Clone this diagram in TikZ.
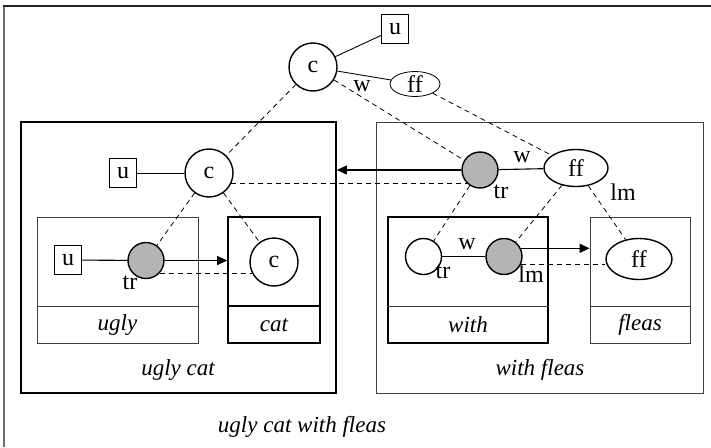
\documentclass[tikz,border=0pt]{standalone}
\usepackage{fontspec}
\setmainfont{Liberation Serif}
\usetikzlibrary{shapes.geometric,arrows.meta}
\definecolor{nodegray}{RGB}{178,180,182}
\definecolor{framegray}{RGB}{110,110,110}
\begin{document}
\begin{tikzpicture}[x=1pt,y=-1pt,
  every node/.style={font=\fontsize{24}{26}\selectfont},
  cnode/.style={circle,draw,line width=1.4pt,minimum size=48pt,inner sep=0pt},
  gnode/.style={circle,draw,line width=1.4pt,fill=nodegray,minimum size=36pt,inner sep=0pt},
  wnode/.style={circle,draw,line width=1.4pt,minimum size=36pt,inner sep=0pt},
  unode/.style={rectangle,draw,line width=0.9pt,minimum width=27pt,minimum height=29pt,inner sep=0pt},
  enode/.style={ellipse,draw,line width=1.4pt,inner sep=0pt},
  link/.style={line width=1.1pt},
  dlink/.style={line width=0.8pt,dash pattern=on 5pt off 4pt},
  arr/.style={line width=1.1pt,-{Triangle[length=10pt,width=9pt]}},
  thickbox/.style={draw,line width=1.7pt,inner sep=0pt},
  thinbox/.style={draw,line width=0.9pt,draw=black!75,inner sep=0pt},
  lbl/.style={inner sep=0pt},
  captxt/.style={inner sep=0pt,font=\fontsize{23}{25}\selectfont\itshape},
]
\useasboundingbox (0,0) rectangle (711,447);

% frame
\draw[line width=1.8pt,framegray] (4,447) -- (4,6);
\draw[line width=1.8pt,black!85] (3.1,6) -- (711,6);

% boxes
\node[thickbox,minimum width=315pt,minimum height=271pt] (ucbox) at (178.5,257.5) {};
\node[thinbox,minimum width=327pt,minimum height=271pt] (wfbox) at (539.5,257.5) {};
\node[thinbox,minimum width=161pt,minimum height=126pt] (ubox) at (117.5,280) {};
\node[thickbox,minimum width=92pt,minimum height=126pt] (cbox) at (274,280) {};
\node[thickbox,minimum width=160pt,minimum height=126pt] (wbox) at (468,280) {};
\node[thinbox,minimum width=100pt,minimum height=126pt] (fbox) at (640,280) {};

% compartment dividers
\draw[line width=0.9pt,black!75] (ubox.west |- 0,306) -- (ubox.east |- 0,306);
\draw[line width=1.2pt] (cbox.west |- 0,306) -- (cbox.east |- 0,306);
\draw[line width=0.9pt,black!75] (wbox.west |- 0,306) -- (wbox.east |- 0,306);
\draw[line width=0.9pt,black!75] (fbox.west |- 0,306) -- (fbox.east |- 0,306);

% captions
\node[captxt] (tugly) at (117.5,325) {ugly};
\node[captxt] (tcat) at (274,325) {cat};
\node[captxt] (twith) at (468,325) {with};
\node[captxt] (tfleas) at (640,325) {fleas};
\node[captxt] (tuglycat) at (178,370) {ugly cat};
\node[captxt] (twithfleas) at (540,370) {with fleas};
\node[captxt] (tall) at (302,427) {ugly cat with fleas};

% top level
\node[cnode] (topc) at (313,67) {c};
\node[unode] (topu) at (395,29) {u};
\node[enode,line width=0.8pt,minimum width=50pt,minimum height=25pt] (topff) at (415,84) {ff};

% ugly cat
\node[cnode] (ucc) at (209,173) {c};
\node[unode] (ucu) at (123,173) {u};
\node[gnode] (ugr) at (146,260.5) {};
\node[unode] (ugu) at (68,260) {u};
\node[cnode] (catc) at (274,262) {c};

% with fleas
\node[gnode] (wftr) at (480,170) {};
\node[enode,minimum width=64pt,minimum height=37pt] (wfff) at (576,168) {ff};
\node[wnode] (wtr) at (423.5,256.5) {};
\node[gnode] (wlm) at (504,256.5) {};
\node[enode,minimum width=66pt,minimum height=41pt] (flff) at (639,259) {ff};

% edge labels
\node[lbl] (lw1) at (362,86) {w};
\node[lbl] (lw2) at (522,157) {w};
\node[lbl] (lw3) at (467,244) {w};
\node[lbl] (ltr1) at (130,283) {tr};
\node[lbl] (ltr2) at (501,192) {tr};
\node[lbl] (ltr3) at (443,272) {tr};
\node[lbl] (llm1) at (623,192) {lm};
\node[lbl] (llm2) at (531,274) {lm};

% solid links
\draw[link,line width=0.9pt] (topc) -- (topu);
\draw[link,line width=0.9pt] (topc) -- (topff);
\draw[link,line width=0.9pt] (ucu) -- (ucc);
\draw[link] (ugu) -- (ugr);
\draw[link] (wftr) -- (wfff);
\draw[link] (wtr) -- (wlm);

% arrows
\draw[arr] (ugr.east) -- (ugr.east -| cbox.west);
\draw[arr] (wftr.west) -- (wftr.west -| ucbox.east);
\draw[arr] (wlm.26) -- (wlm.26 -| fbox.west);

% dashed links
\draw[dlink] (topc) -- (ucc);
\draw[dlink] (topc) -- (wftr);
\draw[dlink] (topff) -- (wfff);
\draw[dlink] (ucc) -- (ugr);
\draw[dlink] (ucc) -- (catc);
\draw[dlink] (wftr) -- (wtr);
\draw[dlink] (wfff) -- (wlm);
\draw[dlink] (wfff) -- (flff);
\draw[dlink] (ucc.-25) -- (ucc.-25 -| wftr.226);
\draw[dlink] (ugr.-43) -- (ugr.-43 -| catc.207);
\draw[dlink] (wlm.-26) -- (wlm.-26 -| flff.west);
\end{tikzpicture}
\end{document}
